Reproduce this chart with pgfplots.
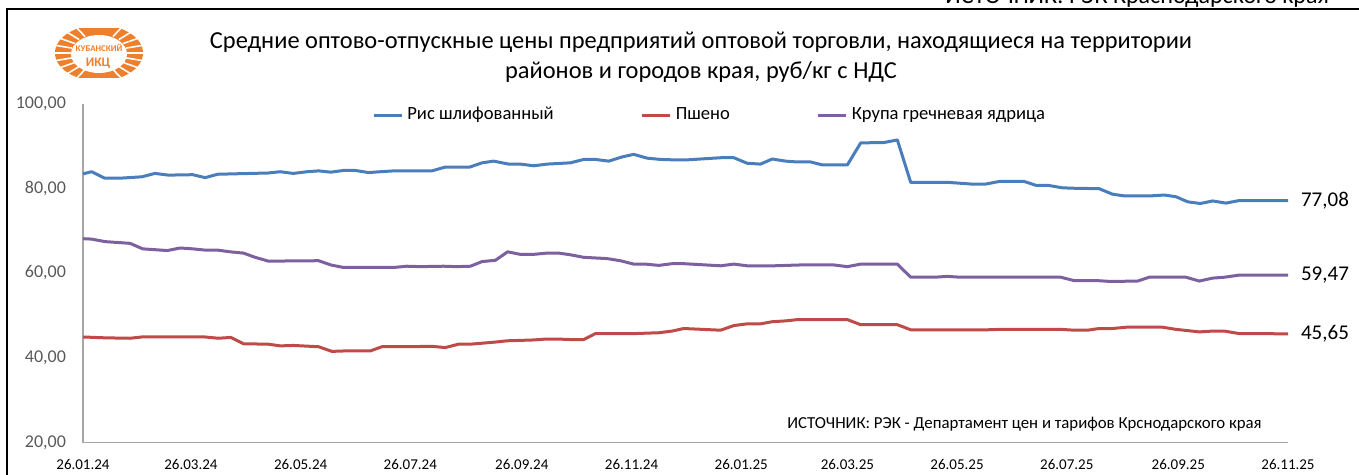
\documentclass[border=0pt]{standalone}
\usepackage{fontspec}
\setmainfont{Carlito}
\usepackage{pgfplots}
\pgfplotsset{compat=1.18}
\definecolor{cblue}{HTML}{4A7EBB}
\definecolor{cred}{HTML}{BE4B48}
\definecolor{cpurple}{HTML}{7D60A0}
\definecolor{axgray}{HTML}{A6A6A6}
\definecolor{lblgray}{HTML}{595959}
\definecolor{logoorange}{HTML}{EE7F2D}
\begin{document}
\begin{tikzpicture}
\useasboundingbox (0,0) rectangle (679.5pt,-237.5pt);
\clip (0,0) rectangle (679.5pt,-237.5pt);
\begin{scope}[x=0.5pt,y=-0.5pt]
  \draw[black, line width=1pt] (7,490) -- (7,9.5) -- (1370,9.5);
  \node[anchor=base west, font=\fontsize{12}{14}\selectfont, inner sep=0pt] at (945,4) {ИСТОЧНИК: РЭК Краснодарского края};
  \node[align=center, font=\fontsize{12.2}{15}\selectfont, inner sep=0pt] at (701,57) {Средние оптово-отпускные цены предприятий оптовой торговли, находящиеся на территории\\районов и городов края, руб/кг с НДС};
  % logo
  \fill[logoorange] (99,53) ellipse [x radius=44, y radius=28];
  \fill[white] (99,54) ellipse [x radius=28, y radius=19];
  \foreach \a in {120,135,...,240,-60,-45,...,60} {
    \draw[white, line width=0.8pt] (99,53) ++(\a:28 and 19) -- ++(\a:18 and 11);
  }
  \fill[white] (80,24) rectangle (118,28);
  \fill[white] (80,78) rectangle (118,82);
  \node[logoorange, font=\bfseries\fontsize{4.4}{5}\selectfont, inner sep=0pt] at (99,48) {КУБАНСКИЙ};
  \node[logoorange, font=\bfseries\fontsize{6.5}{7}\selectfont, inner sep=0pt] at (98,63) {ИКЦ};
  % source
  \node[anchor=west, font=\fontsize{8.4}{10}\selectfont, inner sep=0pt] at (787,424) {ИСТОЧНИК: РЭК - Департамент цен и тарифов Крснодарского края};
\end{scope}
\begin{axis}[
  at={(41.5pt,-221.25pt)}, anchor=south west,
  scale only axis, width=602.5pt, height=169.5pt,
  xmin=0, xmax=670, ymin=20, ymax=100,
  axis lines=left,
  axis line style={-, draw=axgray, line width=0.75pt},
  major tick length=0pt,
  xtick={0,60,121,182,244,305,366,425,486,547,609,670},
  xticklabels={26.01.24,26.03.24,26.05.24,26.07.24,26.09.24,26.11.24,26.01.25,26.03.25,26.05.25,26.07.25,26.09.25,26.11.25},
  ytick={20,40,60,80,100},
  yticklabels={{20,00},{40,00},{60,00},{80,00},{100,00}},
  xticklabel style={font=\fontsize{7.5}{9}\selectfont, text=black, yshift=-5pt},
  yticklabel style={font=\fontsize{9}{11}\selectfont, text=lblgray, xshift=-5pt},
  clip=false,
  every axis plot/.append style={line width=1.5pt, line join=round},
  legend columns=3,
  legend cell align=left,
  legend image code/.code={\draw[#1, line width=1.5pt] (0pt,0pt) -- (14pt,0pt);},
  legend style={at={(0.2398,0.966)}, anchor=west, draw=none, fill=none, inner sep=0pt,
    font=\fontsize{9.3}{11}\selectfont,
    /tikz/every even column/.append style={column sep=41.5pt}},
]
\addplot[cblue] coordinates {
(0,83.4) (4.8,83.9) (11.9,82.4) (21.5,82.4) (32.7,82.7) (40,83.5) (47.5,83.1) (61,83.2) (68,82.5) (74.8,83.3) (83.7,83.4) (103,83.6) (109.6,83.9) (117,83.5) (124.5,83.9) (131,84.1) (137.8,83.8) (144.9,84.2) (151.4,84.2) (158.8,83.7) (165.3,83.9) (172.7,84.1) (194,84.1) (201.4,85.0) (215,85.0) (221.9,86.0) (228.3,86.4) (236.7,85.7) (243.2,85.7) (250.6,85.3) (258,85.7) (271,86.0) (278.4,86.8) (284.9,86.8) (292.3,86.4) (299.8,87.4) (306.2,88.0) (313.7,87.1) (321.1,86.8) (328.5,86.7) (335.9,86.7) (347,87.0) (354.5,87.2) (361.9,87.2) (369.3,85.9) (376.7,85.7) (383.2,86.9) (390.7,86.4) (397.2,86.2) (404.6,86.2) (411.1,85.5) (425,85.5) (432.4,90.7) (445.4,90.8) (452.8,91.4) (460.2,81.4) (480.6,81.4) (493.6,81.0) (502,81.0) (509.4,81.6) (523.3,81.6) (529.8,80.7) (536.3,80.7) (544.6,80.1) (551.1,80.0) (565,79.9) (572.4,78.6) (578.9,78.2) (593.8,78.2) (601.2,78.4) (607.7,78.0) (614.2,76.8) (621.2,76.4) (628.1,77.0) (635.5,76.5) (642.9,77.1) (670,77.08)
};
\addlegendentry{Рис шлифованный}
\addplot[cred] coordinates {
(0,44.9) (12.4,44.7) (26.2,44.6) (32.7,44.9) (67.9,44.9) (75.3,44.6) (82.2,44.8) (89.2,43.3) (103.1,43.2) (109.6,42.8) (117,42.9) (131,42.6) (138.4,41.5) (144.9,41.6) (159.7,41.6) (166.2,42.6) (179.2,42.6) (194,42.7) (201.4,42.4) (208.8,43.2) (215.4,43.2) (229.3,43.7) (235.8,44.0) (250.6,44.2) (257.1,44.4) (264.5,44.4) (271,44.3) (278.4,44.3) (284.9,45.7) (306.2,45.7) (320.1,45.9) (327.6,46.3) (334,46.9) (354.5,46.5) (361.9,47.6) (369.3,48.0) (376.7,48.0) (383.2,48.5) (390.7,48.7) (397.2,49.0) (425,49.0) (432.4,47.8) (452.8,47.8) (460.2,46.6) (502.9,46.6) (510.3,46.7) (543.7,46.7) (551.1,46.5) (558.5,46.5) (565,46.9) (572.4,46.9) (579.9,47.2) (600.3,47.2) (607.7,46.7) (620.7,46.1) (628.1,46.3) (634.5,46.3) (642.9,45.7) (670,45.65)
};
\addlegendentry{Пшено}
\addplot[cpurple] coordinates {
(0,68.1) (4.8,68.0) (12.4,67.4) (26.2,67.0) (33.2,65.7) (40,65.5) (46.9,65.3) (54,65.9) (61,65.7) (68,65.4) (74.8,65.4) (81.8,65.0) (89.2,64.7) (95.7,63.7) (103.1,62.8) (131,62.9) (137.8,61.9) (144.9,61.3) (172.7,61.3) (180.1,61.6) (187.5,61.5) (200.5,61.6) (207.9,61.5) (215.4,61.6) (221.9,62.7) (229.3,63.0) (236.1,65.0) (243.2,64.4) (250.6,64.4) (258,64.7) (264.5,64.7) (271,64.3) (278.4,63.7) (291.4,63.4) (298.8,62.9) (306.2,62.1) (312.7,62.1) (320.1,61.8) (327.6,62.2) (334,62.2) (354.5,61.7) (361.9,62.1) (369.3,61.7) (384.1,61.7) (399,61.9) (417.5,61.9) (425,61.5) (432.4,62.1) (452.8,62.1) (460.2,59.0) (473.2,59.0) (480.6,59.2) (488,59.0) (543.7,59.0) (551.1,58.2) (564.1,58.2) (571.5,58.0) (586.4,58.1) (592.8,59.0) (613.3,59.0) (620.7,58.1) (628.1,58.8) (634.5,59.0) (642.9,59.5) (670,59.47)
};
\addlegendentry{Крупа гречневая ядрица}
\node[anchor=west, font=\fontsize{10.5}{12}\selectfont, xshift=3pt] at (axis cs:670,77.08) {77,08};
\node[anchor=west, font=\fontsize{10.5}{12}\selectfont, xshift=3pt] at (axis cs:670,59.47) {59,47};
\node[anchor=west, font=\fontsize{10.5}{12}\selectfont, xshift=3pt] at (axis cs:670,45.65) {45,65};
\end{axis}
\end{tikzpicture}
\end{document}
